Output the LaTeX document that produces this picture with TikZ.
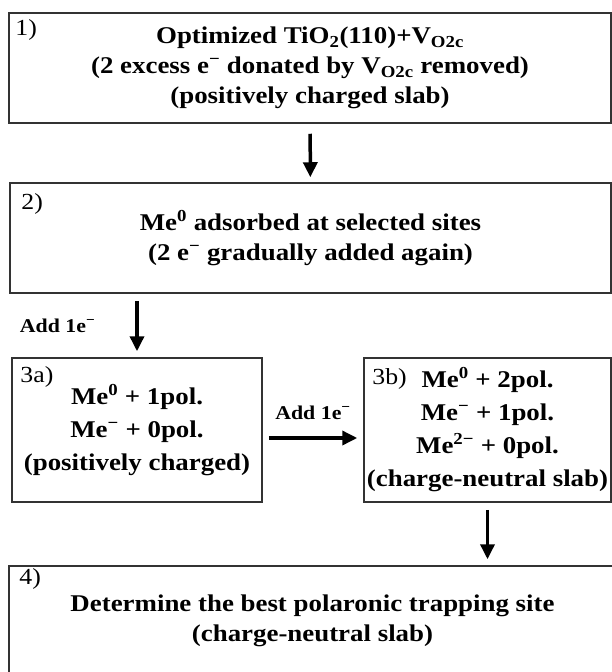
\documentclass[tikz,border=0pt]{standalone}
\usepackage{fontspec}
\setmainfont{Liberation Serif}[FakeStretch=1.12]
\usetikzlibrary{arrows.meta}

\tikzstyle{stepbox} = [draw=black!80,line width=1.5pt,rectangle,align=center,inner sep=0pt,font=\bfseries\fontsize{24}{30}\selectfont]
\tikzstyle{steplabel} = [anchor=west,inner sep=0pt,font=\fontsize{23}{23}\selectfont]
\tikzstyle{addlabel} = [inner sep=0pt,font=\bfseries\fontsize{19.5}{20}\selectfont]
\tikzstyle{flow} = [line width=3.5pt,-{Triangle[length=15pt,width=14pt]}]

\begin{document}
\begin{tikzpicture}[x=1pt,y=-1pt]
    \useasboundingbox (0,0) rectangle (612,672);
    %% boxes
    \node[stepbox, minimum width=602pt, minimum height=110pt] (s1) at (310,68)
      {Optimized TiO\textsubscript{2}(110)+V\textsubscript{O2c}\\
       (2 excess e\textsuperscript{−} donated by V\textsubscript{O2c} removed)\\
       (positively charged slab)};
    \node[stepbox, minimum width=601pt, minimum height=110pt] (s2) at (310.5,238)
      {Me\textsuperscript{0} adsorbed at selected sites\\
       (2 e\textsuperscript{−} gradually added again)};
    \node[stepbox, minimum width=250pt, minimum height=144pt, font=\bfseries\fontsize{24}{33}\selectfont] (s3a) at (137,430)
      {Me\textsuperscript{0} + 1pol.\\
       Me\textsuperscript{−} + 0pol.\\
       (positively charged)};
    \node[stepbox, minimum width=247pt, minimum height=144pt, font=\bfseries\fontsize{24}{33}\selectfont] (s3b) at (487.5,430)
      {Me\textsuperscript{0} + 2pol.\\
       Me\textsuperscript{−} + 1pol.\\
       Me\textsuperscript{2−} + 0pol.\\
       (charge-neutral slab)};
    \node[stepbox, minimum width=607pt, minimum height=110pt] (s4) at (312.5,621)
      {Determine the best polaronic trapping site\\
       (charge-neutral slab)};
    %% step numbers
    \foreach \boxname/\num/\dx/\dy in {
      s1/1)/7/18, s2/2)/12/22, s3a/3a)/9/20, s3b/3b)/9/22, s4/4)/11/14}
    {
      \node[steplabel] (\boxname-num) at ([xshift=\dx pt, yshift=-\dy pt]\boxname.north west) {\num};
    }
    %% arrows
    \draw[flow, shorten <=10pt, shorten >=5pt] (s1) -- (s2);
    \draw[flow, shorten <=7pt, shorten >=6pt] (s2.south -| s3a.north) -- (s3a.north)
      node[addlabel, midway, left=40pt] (add1) {Add 1e\textsuperscript{−}};
    \draw[flow, shorten <=6pt, shorten >=6pt] ([yshift=-8pt]s3a.east) -- ([yshift=-8pt]s3b.west)
      node[addlabel, midway, above=17pt] (add2) {Add 1e\textsuperscript{−}};
    \draw[flow, shorten <=7pt, shorten >=6pt] (s3b.south) -- (s3b.south |- s4.north);
\end{tikzpicture}
\end{document}
